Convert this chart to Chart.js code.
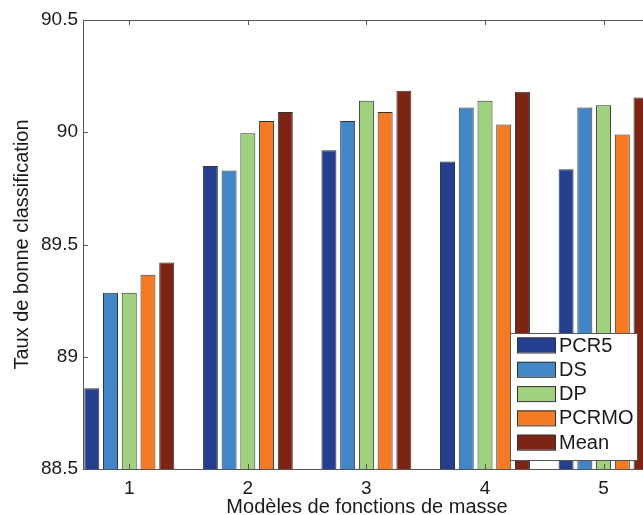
<!DOCTYPE html>
<html>
<head>
<meta charset="utf-8">
<script src="https://cdn.jsdelivr.net/npm/chart.js@4/dist/chart.umd.min.js"></script>
<style>
  html, body { margin: 0; padding: 0; background: #fff; overflow: hidden; }
  #wrap { width: 700px; height: 515px; }
</style>
</head>
<body>
<div id="wrap"><canvas id="myChart" width="700" height="515"></canvas></div>
<script>
// données
const modeles = [1, 2, 3, 4, 5];
const yTicks = [88.5, 89, 89.5, 90, 90.5];
const seriesNames = ['PCR5', 'DS', 'DP', 'PCRMO', 'Mean'];
const pcr5  = [88.86, 89.85, 89.92, 89.87, 89.835];
const ds    = [89.285, 89.83, 90.05, 90.11, 90.11];
const dp    = [89.285, 89.995, 90.14, 90.14, 90.12];
const pcrmo = [89.365, 90.05, 90.09, 90.035, 89.99];
const mean  = [89.42, 90.09, 90.185, 90.18, 90.155];
const couleurs = ['#243f8f', '#4186c6', '#a0d17f', '#f47a24', '#7e2414'];

const FONT = '"Liberation Sans", Arial, Helvetica, sans-serif';
const TXT = '#1a1a1a';

// cadre + graduations vers l'intérieur (style MATLAB) et légende
const matlabBox = {
  id: 'matlabBox',
  afterDatasetsDraw(chart) {
    const { ctx, chartArea: a, scales: { x, y } } = chart;
    ctx.save();
    ctx.strokeStyle = '#555';
    ctx.lineWidth = 1;
    ctx.strokeRect(Math.round(a.left) + 0.5, Math.round(a.top) + 0.5, Math.round(a.width), Math.round(a.height));
    const tl = 5;
    ctx.beginPath();
    x.ticks.forEach((t, i) => {
      const px = Math.round(x.getPixelForTick(i)) + 0.5;
      ctx.moveTo(px, a.top); ctx.lineTo(px, a.top + tl);
      ctx.moveTo(px, a.bottom); ctx.lineTo(px, a.bottom - tl);
    });
    y.ticks.forEach((t, i) => {
      const py = Math.round(y.getPixelForTick(i)) + 0.5;
      ctx.moveTo(a.left, py); ctx.lineTo(a.left + tl, py);
      ctx.moveTo(a.right, py); ctx.lineTo(a.right - tl, py);
    });
    ctx.stroke();
    ctx.restore();
  },
  afterDraw(chart) {
    const { ctx } = chart;
    const bx = 510, by = 333, bw = 127, bh = 127;
    ctx.save();
    ctx.fillStyle = '#fff';
    ctx.fillRect(bx, by, bw, bh);
    ctx.strokeStyle = '#555';
    ctx.lineWidth = 1;
    ctx.strokeRect(bx + 0.5, by + 0.5, bw, bh);
    ctx.font = '20px ' + FONT;
    ctx.textBaseline = 'middle';
    ctx.textAlign = 'left';
    chart.data.datasets.forEach((ds, i) => {
      const cy = 345 + i * 24.3;
      ctx.fillStyle = ds.backgroundColor;
      ctx.fillRect(517, cy - 7.5, 38, 15);
      ctx.strokeStyle = '#333';
      ctx.strokeRect(517.5, cy - 7, 38, 15);
      ctx.fillStyle = TXT;
      ctx.fillText(ds.label, 559, cy + 1);
    });
    ctx.restore();
  }
};

const valeurs = [pcr5, ds, dp, pcrmo, mean];
const datasets = seriesNames.map((name, i) => ({
  label: name,
  data: valeurs[i],
  backgroundColor: couleurs[i],
  borderColor: '#333',
  borderWidth: 1,
  borderSkipped: false,
  categoryPercentage: 0.79,
  barPercentage: 0.8
}));

const ctx = document.getElementById('myChart').getContext('2d');
new Chart(ctx, {
  type: 'bar',
  data: { labels: modeles, datasets },
  options: {
    responsive: false,
    animation: false,
    layout: { padding: { top: 20, right: 49, left: 0, bottom: 0 } },
    plugins: { legend: { display: false }, tooltip: { enabled: false } },
    scales: {
      x: {
        type: 'linear',
        offset: false,
        min: 0.61,
        max: 5.4,
        afterBuildTicks: (s) => { s.ticks = modeles.map(v => ({ value: v })); },
        afterFit: (s) => { s.height = 46; },
        grid: { display: false, drawTicks: false },
        border: { display: false },
        ticks: { color: TXT, font: { family: FONT, size: 19 }, padding: 8, maxRotation: 0 },
        title: {
          display: true,
          text: 'Modèles de fonctions de masse',
          color: TXT,
          font: { family: FONT, size: 20, lineHeight: 0.8 },
          padding: { top: 0, bottom: 0 }
        }
      },
      y: {
        min: 88.5,
        max: 90.5,
        afterBuildTicks: (s) => { s.ticks = yTicks.map(v => ({ value: v })); },
        afterFit: (s) => { s.width = 83; },
        grid: { display: false, drawTicks: false },
        border: { display: false },
        ticks: { color: TXT, font: { family: FONT, size: 19 }, padding: 5, callback: (v) => String(v) },
        title: {
          display: true,
          text: 'Taux de bonne classification',
          color: TXT,
          font: { family: FONT, size: 20 },
          padding: { top: 10, bottom: 0 }
        }
      }
    }
  },
  plugins: [matlabBox]
});
</script>
</body>
</html>
